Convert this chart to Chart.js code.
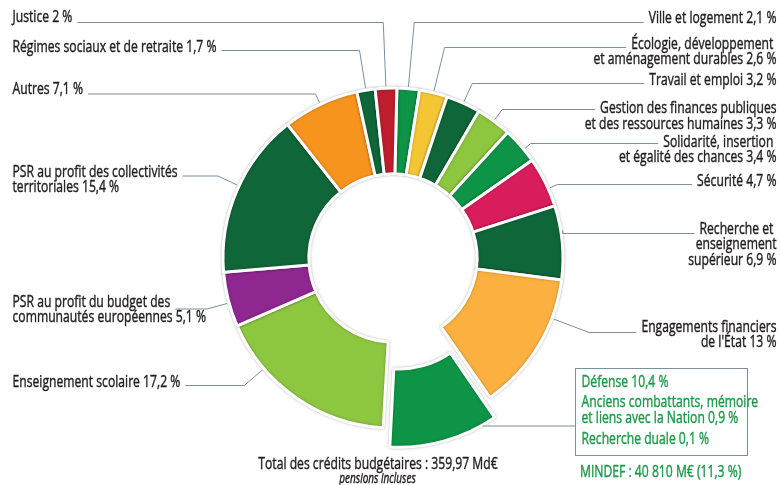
<!DOCTYPE html>
<html lang="fr">
<head>
<meta charset="utf-8">
<script src="https://cdn.jsdelivr.net/npm/chart.js@4.4.1/dist/chart.umd.min.js"></script>
<style>
  html, body { margin: 0; padding: 0; background: #fff; }
  #wrap { width: 780px; height: 485px; position: relative; }
</style>
</head>
<body>
<div id="wrap"><canvas id="budget"></canvas></div>
<script>
// slices, clockwise from the top
const names = [
  'Ville et logement',
  'Écologie, développement \net aménagement durables',
  'Travail et emploi',
  'Gestion des finances publiques\net des ressources humaines',
  'Solidarité, insertion \net égalité des chances',
  'Sécurité',
  'Recherche et \nenseignement\nsupérieur',
  "Engagements financiers\nde l'État",
  'Défense',
  'Enseignement scolaire',
  'PSR au profit du budget des\ncommunautés européennes',
  'PSR au profit des collectivités\nterritoriales',
  'Autres',
  'Régimes sociaux et de retraite',
  'Justice'
]
const shares = [2.1, 2.6, 3.2, 3.3, 3.4, 4.7, 6.9, 13, 10.4, 17.2, 5.1, 15.4, 7.1, 1.7, 2]
const colors = ['#0e9447', '#f5c633', '#0f6639', '#8dc63f', '#0e9447', '#d91c5c', '#0f6639', '#fbb040',
                '#0e9447', '#8dc63f', '#8e278f', '#0f6639', '#f7941e', '#0f6639', '#be1e2d']

// MINDEF box (the exploded slice)
const mindefNames = ['Défense', 'Anciens combattants, mémoire\net liens avec la Nation', 'Recherche duale']
const mindefShares = [10.4, 0.9, 0.1]
const mindefTotal = 'MINDEF : 40 810 M€ (11,3 %)'
const totalText = 'Total des crédits budgétaires : 359,97 Md€'
const totalNote = 'pensions incluses'

const pct = v => String(v).replace('.', ',') + ' %'

// where each callout sits: side, first baseline, leader y, position along the slice
const callouts = [
  { side: 'right', y: 23, ly: 22.5 },
  { side: 'right', y: 48.5, ly: 47.5 },
  { side: 'right', y: 85, ly: 83.5 },
  { side: 'right', y: 113, ly: 109.5 },
  { side: 'right', y: 146.5, ly: 143.5, t: 0.63 },
  { side: 'right', y: 185.5, ly: 184.5, t: 0.64 },
  { side: 'right', y: 233.5, ly: 233.5, t: 0.34 },
  { side: 'right', y: 331.5, ly: 332.5, t: 0.28 },
  null,
  { side: 'left', y: 386.5, ly: 385.5, t: 0.73 },
  { side: 'left', y: 306.5, ly: 309, t: 0.44 },
  { side: 'left', y: 176.5, ly: 176, t: 0.53 },
  { side: 'left', y: 93.5, ly: 94 },
  { side: 'left', y: 51.5, ly: 50.5 },
  { side: 'left', y: 21.5, ly: 22.5 }
]

const FONT = '"Liberation Sans Narrow", "Open Sans", sans-serif'
const TEXT = '#231f20'
const GREEN = '#1f9a4b'
const LEADER = '#7d8e9c'
const LINE_H = 15.8
let squeeze = 1

// condensed, slightly heavier text (the original face is a bold-ish condensed sans)
function txt(ctx, s, x, y, align) {
  ctx.save()
  ctx.translate(x, y)
  ctx.scale(squeeze, 1)
  ctx.textAlign = align
  ctx.fillText(s, 0, 0)
  ctx.strokeStyle = ctx.fillStyle
  ctx.lineWidth = 0.45
  ctx.strokeText(s, 0, 0)
  ctx.restore()
  return ctx.measureText(s).width * squeeze
}

// Chart.js pushes an offset arc out and also widens it; keep the outer edge on the ring
const explode = {
  id: 'explode',
  beforeDatasetsDraw(chart) {
    const meta = chart.getDatasetMeta(0)
    meta.data.forEach(arc => {
      const off = (arc.options.offset || 0) / 4
      if (!off) return
      const fix = 1 - Math.sin(Math.min(Math.PI, arc.endAngle - arc.startAngle))
      arc.outerRadius = meta.controller.outerRadius - off * fix
    })
    const c = chart.ctx
    c.save()
    c.shadowColor = 'rgba(0,0,0,0.25)'
    c.shadowBlur = 3
  },
  afterDatasetsDraw(chart) {
    chart.ctx.restore()
  }
}

// same geometry as Chart.js arc drawing (offset translation)
function arcGeom(arc) {
  const p = arc.getProps(['x', 'y', 'startAngle', 'endAngle', 'outerRadius'], true)
  const off = (arc.options.offset || 0) / 4
  const fix = 1 - Math.sin(Math.min(Math.PI, p.endAngle - p.startAngle))
  const mid = (p.startAngle + p.endAngle) / 2
  return {
    cx: p.x + Math.cos(mid) * off,
    cy: p.y + Math.sin(mid) * off,
    r: p.outerRadius + off * fix,
    start: p.startAngle,
    end: p.endAngle
  }
}

const calloutPlugin = {
  id: 'callouts',
  afterDraw(chart) {
    const ctx = chart.ctx
    const arcs = chart.getDatasetMeta(0).data
    ctx.save()
    ctx.font = '17px ' + FONT
    squeeze = 204 / ctx.measureText('Régimes sociaux et de retraite 1,7 %').width
    ctx.fillStyle = TEXT
    ctx.strokeStyle = LEADER
    ctx.lineWidth = 1
    ctx.textBaseline = 'alphabetic'

    callouts.forEach((c, i) => {
      if (!c) return
      const g = arcGeom(arcs[i])
      const a = g.start + (c.t ?? 0.5) * (g.end - g.start)
      const ax = g.cx + Math.cos(a) * (g.r + 2)
      const ay = g.cy + Math.sin(a) * (g.r + 2)
      let s = Math.abs(Math.sin(a)) > 0.02 ? (c.ly - ay) / Math.sin(a) : 0
      if (s < 0) s = 0
      const ex = ax + Math.cos(a) * s
      const lines = (names[i] + ' ' + pct(shares[i])).split('\n')
      let w = 0
      lines.forEach((l, k) => {
        const ww = c.side === 'right'
          ? txt(ctx, l, 776.5, c.y + k * LINE_H, 'right')
          : txt(ctx, l, 12.5, c.y + k * LINE_H, 'left')
        if (k === 0) w = ww
      })
      const tx = c.side === 'right' ? 776.5 - w - 5 : 12.5 + w + 5
      ctx.beginPath()
      ctx.moveTo(ax, ay)
      ctx.lineTo(ex, c.ly)
      ctx.lineTo(tx, c.ly)
      ctx.stroke()
    })

    // MINDEF box
    const box = { x: 575.5, y: 368, w: 172, h: 87, ly: 426 }
    const g = arcGeom(arcs[8])
    const dy = box.ly - g.cy
    const lx = g.cx + Math.sqrt(Math.max(g.r * g.r - dy * dy, 0)) + 2
    ctx.beginPath()
    ctx.moveTo(lx, box.ly)
    ctx.lineTo(box.x, box.ly)
    ctx.stroke()
    ctx.strokeRect(box.x, box.y + 0.5, box.w, box.h)

    ctx.fillStyle = GREEN
    const boxLines = []
    mindefNames.forEach((n, k) => {
      const ls = (n + ' ' + pct(mindefShares[k])).split('\n')
      ls.forEach((l, j) => boxLines.push({ l, gap: k > 0 && j === 0 }))
    })
    let by = 386.5
    boxLines.forEach((b, k) => {
      if (k > 0) by += b.gap ? 20.5 : 16
      txt(ctx, b.l, 581.5, by, 'left')
    })
    txt(ctx, mindefTotal, 580, 476.5, 'left')

    ctx.fillStyle = TEXT
    txt(ctx, totalText, 378, 468.5, 'center')
    ctx.font = 'italic 14px ' + FONT
    txt(ctx, totalNote, 377.5, 482.5, 'center')
    ctx.restore()
  }
}

new Chart(document.getElementById('budget'), {
  type: 'doughnut',
  data: {
    labels: names,
    datasets: [{
      data: shares,
      backgroundColor: colors,
      borderColor: '#ffffff',
      borderWidth: 3,
      offset: shares.map((v, i) => i === 8 ? 80 : 0)
    }]
  },
  options: {
    responsive: true,
    maintainAspectRatio: false,
    animation: false,
    events: [],
    rotation: 1.3,
    radius: 170,
    cutout: '49.5%',
    layout: { padding: { left: 6, right: 0, top: 31, bottom: 0 } },
    plugins: {
      legend: { display: false },
      tooltip: { enabled: false }
    }
  },
  plugins: [explode, calloutPlugin]
})
</script>
</body>
</html>
